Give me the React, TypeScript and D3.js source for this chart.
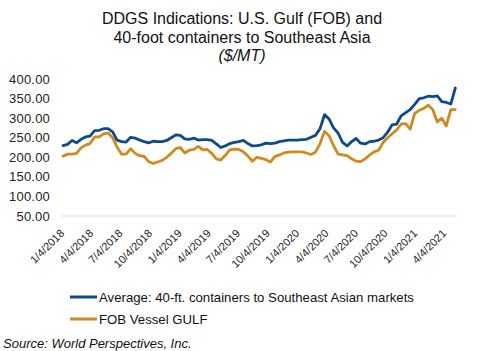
import * as d3 from 'd3';

// biweekly readings, first point 1/4/2018
const startDate = new Date(2018, 0, 4);
const stepDays = 14;

const containerValues = [
  230, 233, 243, 237, 246, 252, 254, 268, 269, 273,
  273, 265, 244, 240, 239, 251, 249, 244, 240, 237,
  241, 240, 240, 243, 250, 257, 256, 247, 246, 249,
  244, 245, 245, 243, 234, 225, 229, 235, 238, 240,
  243, 235, 229, 230, 232, 236, 235, 236, 240, 242,
  244, 244, 244, 245, 246, 251, 256, 273, 309, 298,
  275, 262, 238, 229, 240, 248, 236, 234, 240, 241,
  244, 250, 264, 283, 285, 306, 314, 322, 335, 350,
  352, 356, 355, 357, 342, 340, 336, 377,
];

const fobValues = [
  203, 208, 208, 210, 224, 231, 235, 252, 252, 260,
  262, 250, 226, 208, 208, 222, 210, 204, 202, 189,
  184, 188, 192, 200, 210, 222, 225, 211, 218, 220,
  228, 219, 220, 210, 196, 193, 205, 219, 221, 220,
  214, 203, 190, 200, 197, 194, 188, 202, 206, 211,
  213, 214, 214, 214, 211, 207, 213, 235, 266, 255,
  230, 208, 206, 204, 196, 190, 189, 196, 206, 214,
  218, 238, 250, 260, 270, 285, 286, 272, 312, 320,
  325, 333, 322, 290, 300, 280, 322, 322,
];

const tickLabels = [
  '1/4/2018', '4/4/2018', '7/4/2018', '10/4/2018',
  '1/4/2019', '4/4/2019', '7/4/2019', '10/4/2019',
  '1/4/2020', '4/4/2020', '7/4/2020', '10/4/2020',
  '1/4/2021', '4/4/2021',
];

const yTicks = [50, 100, 150, 200, 250, 300, 350, 400];

const seriesNames = [
  'Average: 40-ft. containers to Southeast Asian markets',
  'FOB Vessel GULF',
];
const seriesColors = ['#0B4A8C', '#D4891C'];

const titleLines = [
  'DDGS Indications: U.S. Gulf (FOB) and',
  '40-foot containers to Southeast Asia',
];
const unitLine = '($/MT)';
const sourceText = 'Source: World Perspectives, Inc.';

const W = 482;
const H = 351;
const FONT = 'Arial, "Liberation Sans", sans-serif';

export default function App() {
  const parse = d3.timeParse('%m/%d/%Y');
  const tickDates = tickLabels.map((t) => parse(t) as Date);
  const dates = containerValues.map((_, i) => d3.timeDay.offset(startDate, i * stepDays));

  const x = d3.scaleTime().domain([tickDates[0], tickDates[tickDates.length - 1]]).range([63, 445]);
  const y = d3.scaleLinear().domain([50, 400]).range([216, 79]);

  const line = d3.line<number>()
    .x((_, i) => x(dates[i]))
    .y((d) => y(d));

  const series = [containerValues, fobValues];

  return (
    <svg width={W} height={H} style={{ position: 'absolute', left: 0, top: 0, background: '#fff' }} fontFamily={FONT}>
      {titleLines.map((t, i) => (
        <text key={t} x={242} y={24 + i * 18.7} textAnchor="middle" fontSize={16} fill="#111">{t}</text>
      ))}
      <text x={242} y={61.4} textAnchor="middle" fontSize={16} fontStyle="italic" fill="#111">{unitLine}</text>

      {yTicks.map((v) => (
        <text key={v} x={50} y={y(v)} dy="0.35em" textAnchor="end" fontSize={13} letterSpacing={0.2} fill="#222">{d3.format('.2f')(v)}</text>
      ))}
      <line x1={62} x2={457} y1={y(50)} y2={y(50)} stroke="#D9D9D9" strokeWidth={1} />

      {tickDates.map((d, i) => (
        <text key={tickLabels[i]} transform={`translate(${x(d) + 2},${234}) rotate(-45)`} textAnchor="end" fontSize={11} fill="#222">{tickLabels[i]}</text>
      ))}

      {series.map((s, i) => (
        <path key={i} d={line(s) ?? ''} fill="none" stroke={seriesColors[i]} strokeWidth={2.8} strokeLinejoin="round" strokeLinecap="round" />
      )).reverse()}

      {seriesNames.map((n, i) => (
        <g key={n}>
          <line x1={70} x2={97} y1={297 + i * 22} y2={297 + i * 22} stroke={seriesColors[i]} strokeWidth={3} />
          <text x={99} y={301.5 + i * 22} fontSize={13.2} fill="#111">{n}</text>
        </g>
      ))}

      <text x={3} y={348} fontSize={13} fontStyle="italic" fill="#111">{sourceText}</text>
    </svg>
  );
}
